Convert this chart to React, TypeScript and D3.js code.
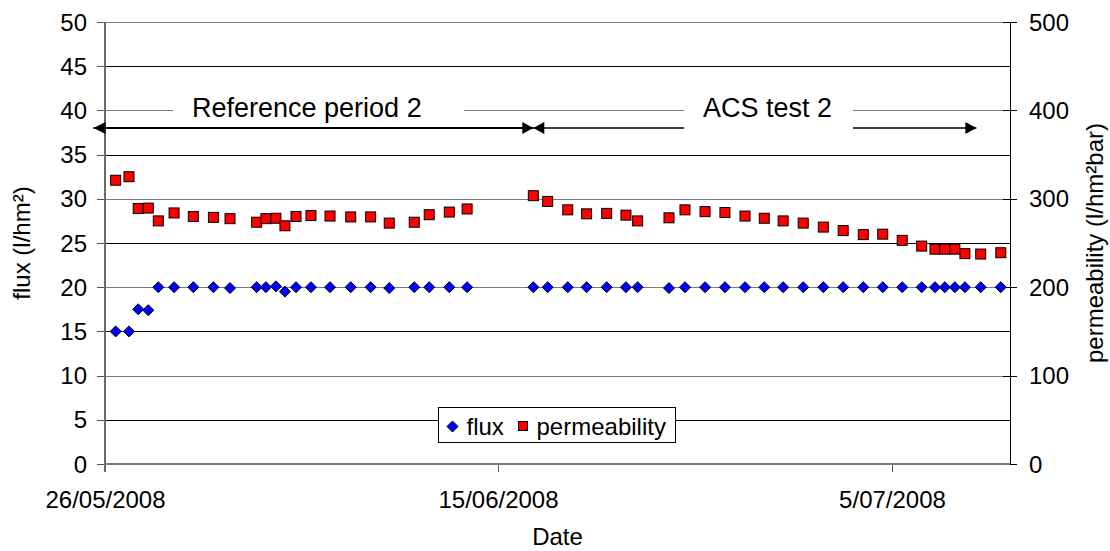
import React from "react";
import * as d3 from "d3";

const dates = [
  "26/05/2008 13:00", "27/05/2008 05:15", "27/05/2008 16:30", "28/05/2008 04:45", "28/05/2008 17:00",
  "29/05/2008 12:15", "30/05/2008 11:45", "31/05/2008 12:15", "01/06/2008 08:30", "02/06/2008 17:00",
  "03/06/2008 04:15", "03/06/2008 16:30", "04/06/2008 03:30", "04/06/2008 17:00", "05/06/2008 11:15",
  "06/06/2008 10:30", "07/06/2008 11:45", "08/06/2008 12:00", "09/06/2008 10:45", "10/06/2008 17:15",
  "11/06/2008 11:30", "12/06/2008 12:00", "13/06/2008 09:45", "16/06/2008 18:30", "17/06/2008 12:00",
  "18/06/2008 12:30", "19/06/2008 11:30", "20/06/2008 12:00", "21/06/2008 11:30", "22/06/2008 01:45",
  "23/06/2008 16:00", "24/06/2008 11:30", "25/06/2008 12:00", "26/06/2008 12:15", "27/06/2008 12:45",
  "28/06/2008 12:15", "29/06/2008 11:15", "30/06/2008 11:45", "01/07/2008 12:15", "02/07/2008 12:30",
  "03/07/2008 13:00", "04/07/2008 12:45", "05/07/2008 12:30", "06/07/2008 12:15", "07/07/2008 04:30",
  "07/07/2008 16:30", "08/07/2008 04:45", "08/07/2008 17:00", "09/07/2008 12:15", "10/07/2008 12:45",
];

const flux = [
  15, 15, 17.5, 17.4, 20, 20, 20, 20, 19.9, 20,
  20, 20.1, 19.5, 20, 20, 20, 20, 20, 19.9, 20,
  20, 20, 20, 20, 20, 20, 20, 20, 20, 20,
  19.9, 20, 20, 20, 20, 20, 20, 20, 20, 20,
  20, 20, 20, 20, 20, 20, 20, 20, 20, 20,
];

const permeability = [
  321, 325, 289, 289.5, 275, 284, 280, 279, 277.5, 273.5,
  277.5, 278, 269.5, 280, 281, 280.5, 279.5, 279.5, 272.5, 273.5,
  282, 285, 288.5, 303.5, 297, 287.5, 283, 283.5, 281.5, 275,
  278.5, 287.5, 285.5, 284.5, 280.5, 278, 275, 272.5, 268, 264,
  259.5, 260, 253, 246.5, 243, 243, 243, 238, 237.5, 239,
];

const xTickLabels = ["26/05/2008", "15/06/2008", "5/07/2008"];
const xDomainLabels = ["26/05/2008", "11/07/2008"];
const fluxTicks = [0, 5, 10, 15, 20, 25, 30, 35, 40, 45, 50];
const permTicks = [0, 100, 200, 300, 400, 500];

// annotation arrows at a flux level, spanning periods
const arrowLevel = 38;
const refPeriod = ["25/05/2008 10:00", "16/06/2008 18:30"];
const acsPeriod = ["16/06/2008 18:30", "09/07/2008 07:00"];

const FONT = "'Liberation Sans', Arial, sans-serif";

const parseDT = d3.timeParse("%d/%m/%Y %H:%M");
const parseD = d3.timeParse("%d/%m/%Y");

export default function App() {
  const W = 1110, H = 551;
  const left = 105, right = 1010, top = 22, bottom = 464;

  const x = d3.scaleTime()
    .domain(xDomainLabels.map((s) => parseD(s) as Date))
    .range([left, right]);
  const yF = d3.scaleLinear().domain([0, 50]).range([bottom, top]);
  const yP = d3.scaleLinear().domain([0, 500]).range([bottom, top]);

  const pts = dates.map((d, i) => ({ t: parseDT(d) as Date, f: flux[i], p: permeability[i] }));

  const diamond = "M0,-5.5L5.5,0L0,5.5L-5.5,0Z";
  const ay = yF(arrowLevel);

  const r1 = refPeriod.map((s) => x(parseDT(s) as Date));
  const r2 = acsPeriod.map((s) => x(parseDT(s) as Date));

  const legX = 438.5, legY = 407.5, legW = 237, legH = 35;

  return (
    <svg width={W} height={H} style={{ position: "absolute", left: 0, top: 0 }} fontFamily={FONT}>
      <rect width={W} height={H} fill="#fff" />
      {/* gridlines */}
      {fluxTicks.map((v) => (
        <line key={"g" + v} x1={left} x2={right} y1={Math.round(yF(v)) + 0.5} y2={Math.round(yF(v)) + 0.5}
          stroke={v % 10 === 0 ? "#7a7a7a" : "#000"} strokeWidth={1} />
      ))}
      {/* left ticks */}
      {fluxTicks.map((v) => (
        <g key={"lt" + v}>
          <line x1={97} x2={left} y1={Math.round(yF(v)) + 0.5} y2={Math.round(yF(v)) + 0.5} stroke="#555" />
          <text x={87} y={yF(v)} dy="0.36em" textAnchor="end" fontSize={24} fill="#000">{v}</text>
        </g>
      ))}
      {/* right axis */}
      <line x1={right + 0.5} x2={right + 0.5} y1={top} y2={bottom} stroke="#000" />
      {permTicks.map((v) => (
        <g key={"rt" + v}>
          <line x1={1003} x2={1017} y1={Math.round(yP(v)) + 0.5} y2={Math.round(yP(v)) + 0.5} stroke="#000" />
          <text x={1029} y={yP(v)} dy="0.36em" textAnchor="start" fontSize={24} fill="#000">{v}</text>
        </g>
      ))}
      {/* x ticks */}
      {xTickLabels.map((s) => {
        const xx = Math.round(x(parseD(s) as Date)) + 0.5;
        return (
          <g key={"xt" + s}>
            <line x1={xx} x2={xx} y1={bottom} y2={472} stroke="#555" />
            <text x={xx} y={508} textAnchor="middle" fontSize={24} fill="#000">{s}</text>
          </g>
        );
      })}
      {/* axis lines */}
      <line x1={left} x2={left} y1={top} y2={472} stroke="#6a6a6a" strokeWidth={2} />
      <line x1={left} x2={right} y1={bottom} y2={bottom} stroke="#7a7a7a" strokeWidth={2} />

      {/* annotation box 1 */}
      <rect x={173} y={96} width={291} height={26} fill="#fff" />
      <text x={192} y={117} fontSize={27} fill="#000">Reference period 2</text>
      {/* arrow 2 */}
      <line x1={r2[0]} x2={r2[1]} y1={ay} y2={ay} stroke="#000" strokeWidth={1.5} />
      <path d={`M${r2[0]},${ay}L${r2[0] + 11},${ay - 6}L${r2[0] + 11},${ay + 6}Z`} fill="#000" />
      <path d={`M${r2[1]},${ay}L${r2[1] - 11},${ay - 6}L${r2[1] - 11},${ay + 6}Z`} fill="#000" />
      {/* annotation box 2 */}
      <rect x={684} y={96} width={169} height={38} fill="#fff" />
      <text x={703} y={117} fontSize={27} fill="#000">ACS test 2</text>
      {/* arrow 1 */}
      <line x1={r1[0]} x2={r1[1]} y1={ay} y2={ay} stroke="#000" strokeWidth={2} />
      <path d={`M${r1[0]},${ay}L${r1[0] + 12},${ay - 6}L${r1[0] + 12},${ay + 6}Z`} fill="#000" />
      <path d={`M${r1[1]},${ay}L${r1[1] - 11},${ay - 6}L${r1[1] - 11},${ay + 6}Z`} fill="#000" />

      {/* permeability squares */}
      {pts.map((d, i) => (
        <rect key={"p" + i} x={x(d.t) - 5} y={yP(d.p) - 5} width={10} height={10}
          fill="#ff0000" stroke="#000" strokeWidth={1} />
      ))}
      {/* flux diamonds */}
      {pts.map((d, i) => (
        <path key={"f" + i} d={diamond} transform={`translate(${x(d.t)},${yF(d.f)})`}
          fill="#0000ff" stroke="#000" strokeWidth={1} />
      ))}

      {/* legend */}
      <rect x={legX} y={legY} width={legW} height={legH} fill="#fff" stroke="#000" />
      <path d={diamond} transform={`translate(${legX + 14},${legY + 19})`} fill="#0000ff" stroke="#000" />
      <text x={legX + 28} y={legY + 27} fontSize={24} fill="#000">flux</text>
      <rect x={legX + 80} y={legY + 14} width={9} height={9} fill="#ff0000" stroke="#000" />
      <text x={legX + 98} y={legY + 27} fontSize={24} fill="#000">permeability</text>

      {/* axis titles */}
      <text transform={`translate(30,${(top + bottom) / 2}) rotate(-90)`} textAnchor="middle" fontSize={24} fill="#000">flux (l/hm²)</text>
      <text transform={`translate(1103,${(top + bottom) / 2}) rotate(-90)`} textAnchor="middle" fontSize={24} fill="#000">permeability (l/hm²bar)</text>
      <text x={(left + right) / 2} y={545} textAnchor="middle" fontSize={24} fill="#000">Date</text>
    </svg>
  );
}
